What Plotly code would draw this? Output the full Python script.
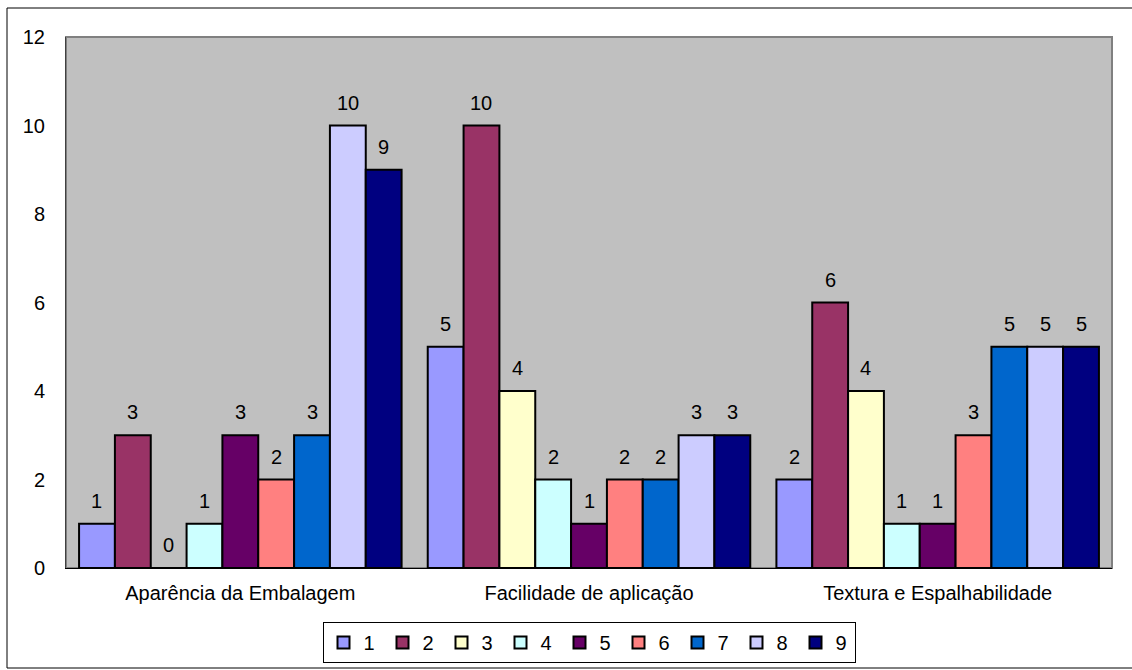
import plotly.graph_objects as go

categories = ["Aparência da Embalagem", "Facilidade de aplicação", "Textura e Espalhabilidade"]
series_names = ["1", "2", "3", "4", "5", "6", "7", "8", "9"]
s1 = [1, 5, 2]
s2 = [3, 10, 6]
s3 = [0, 4, 4]
s4 = [1, 2, 1]
s5 = [3, 1, 1]
s6 = [2, 2, 3]
s7 = [3, 2, 5]
s8 = [10, 3, 5]
s9 = [9, 3, 5]
series_values = [s1, s2, s3, s4, s5, s6, s7, s8, s9]
colors = ["#9999FF", "#993366", "#FFFFCC", "#CCFFFF", "#660066",
          "#FF8080", "#0066CC", "#CCCCFF", "#000080"]
y_ticks = [0, 2, 4, 6, 8, 10, 12]

FONT = "Liberation Sans, Arial"
W, H = 1132, 670
l, r, t, b = 66, 20, 37, 102
pw, ph = W - l - r, H - t - b
bargap = 0.075
n = len(series_names)
bar_px = pw / len(categories) * (1 - bargap) / n

fig = go.Figure()
annotations = []
for i, (name, vals, col) in enumerate(zip(series_names, series_values, colors)):
    fig.add_trace(go.Bar(
        x=categories, y=vals, name=name,
        marker=dict(color=col, line=dict(color="black", width=2)),
    ))
    for cat, v in zip(categories, vals):
        annotations.append(dict(
            x=cat, y=v, xref="x", yref="y", text=str(v), showarrow=False,
            xanchor="center", yanchor="bottom",
            xshift=(i - (n - 1) / 2) * bar_px, yshift=10,
            font=dict(size=20, color="black", family=FONT),
        ))

def px_x(x):
    return (x - l) / pw

def px_y(y):
    return (H - b - y) / ph

fig.update_layout(
    width=W, height=H,
    margin=dict(l=l, r=r, t=t, b=b, autoexpand=False),
    paper_bgcolor="white", plot_bgcolor="#C0C0C0",
    barmode="group", bargap=bargap, bargroupgap=0,
    font=dict(family=FONT, size=20, color="black"),
    showlegend=True,
    legend=dict(orientation="h", x=0.5, xanchor="center",
                y=px_y(622), yanchor="top",
                bordercolor="black", borderwidth=1, bgcolor="white",
                font=dict(size=20), itemwidth=30, entrywidth=14,
                tracegroupgap=0),
    annotations=annotations,
    shapes=[
        dict(type="rect", xref="paper", yref="paper",
             x0=px_x(7), x1=px_x(1140), y0=px_y(668), y1=px_y(8),
             line=dict(color="black", width=1), fillcolor="rgba(0,0,0,0)", layer="below"),
        dict(type="rect", xref="paper", yref="paper",
             x0=0, x1=1, y0=0, y1=1,
             line=dict(color="#808080", width=2), fillcolor="rgba(0,0,0,0)", layer="below"),
    ],
)
fig.update_yaxes(range=[0, 12], tickvals=y_ticks, showgrid=False, zeroline=False,
                 showline=True, linecolor="#404040", linewidth=1, ticks="",
                 tickfont=dict(size=20), ticklabelstandoff=16)
fig.update_xaxes(showgrid=False, showline=True, linecolor="black", linewidth=1,
                 ticks="", tickfont=dict(size=20), ticklabelstandoff=7)

fig.write_html("out.html")
